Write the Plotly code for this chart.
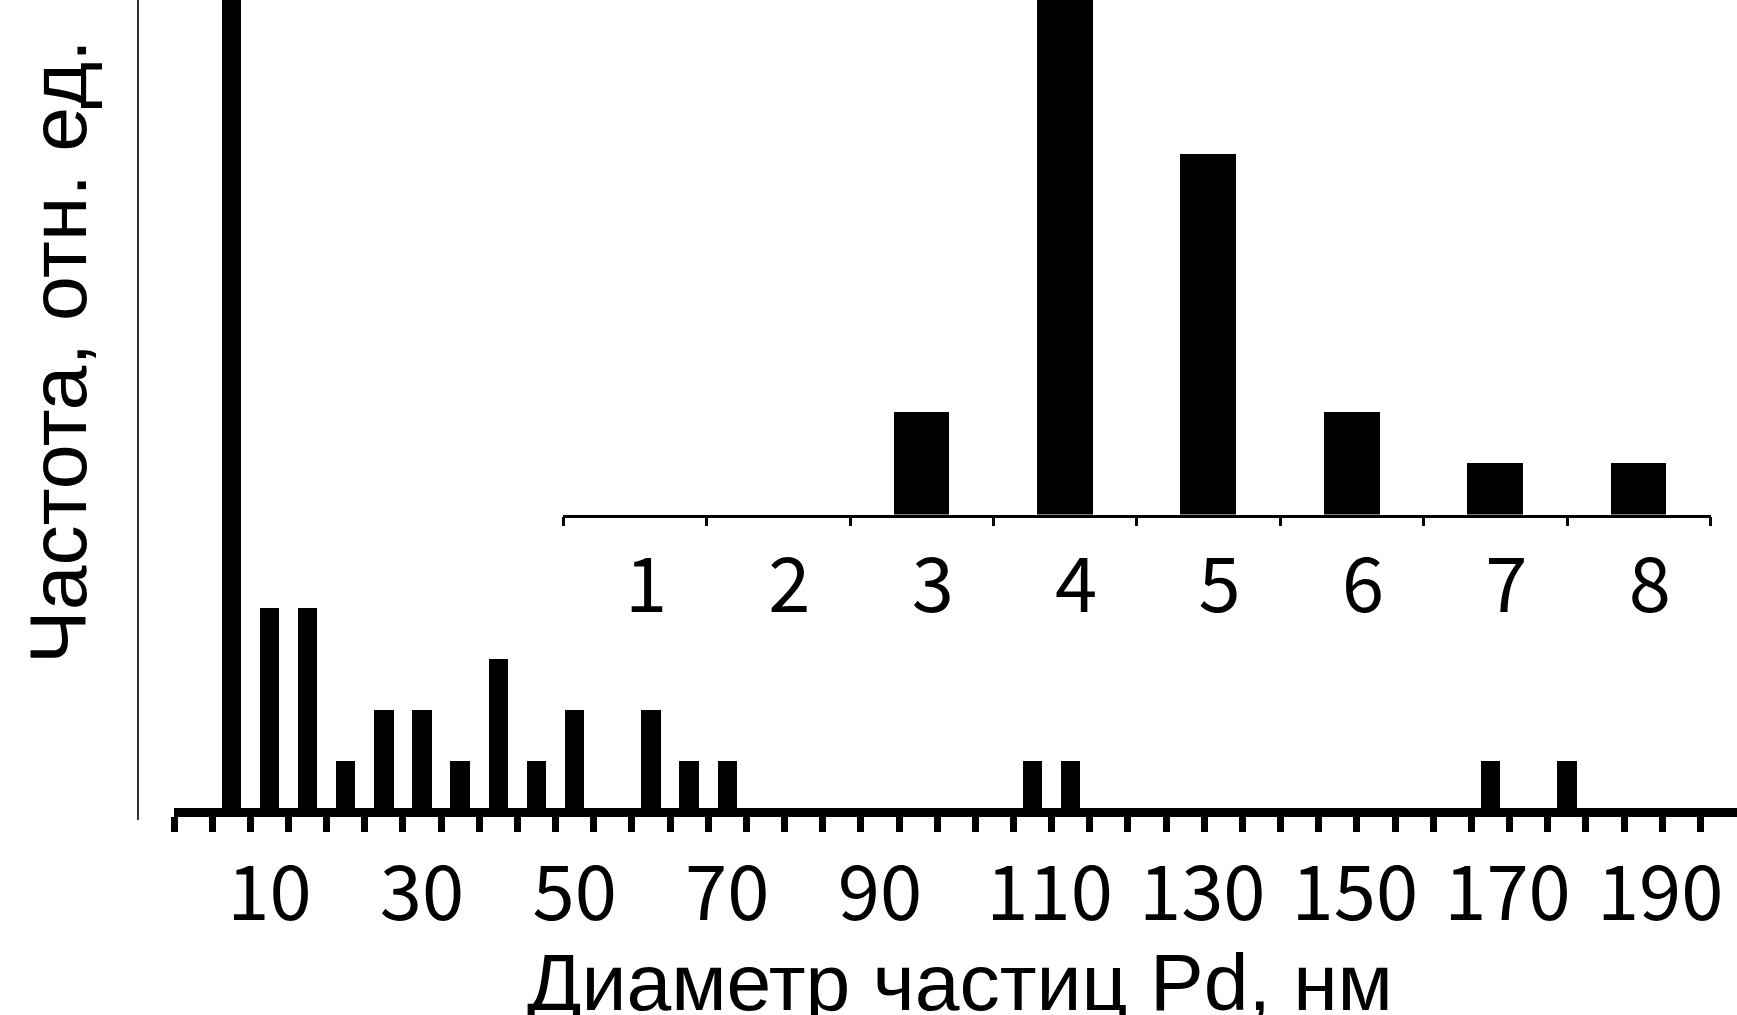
import plotly.graph_objects as go

# ---------------- data ----------------
# main histogram: particle diameter (nm) and relative frequency
diameters = [5, 10, 15, 20, 25, 30, 35, 40, 45, 50, 55, 60, 65, 70, 75, 80, 85, 90, 95,
             100, 105, 110, 115, 120, 125, 130, 135, 140, 145, 150, 155, 160, 165, 170,
             175, 180, 185, 190, 195]
counts = [27, 4, 4, 1, 2, 2, 1, 3, 1, 2, 0, 2, 1, 1, 0, 0, 0, 0, 0,
          0, 0, 1, 1, 0, 0, 0, 0, 0, 0, 0, 0, 0, 0, 1,
          0, 1, 0, 0, 0]
main_tick_labels = ["10", "30", "50", "70", "90", "110", "130", "150", "170", "190"]

# inset histogram: 1..8 nm
inset_sizes = ["1", "2", "3", "4", "5", "6", "7", "8"]
inset_counts = [0, 0, 2, 14, 7, 2, 1, 1]

x_title = "Диаметр частиц Pd, нм"
y_title = "Частота, отн. ед."

# ---------------- layout geometry ----------------
W, H = 1737, 1015
ML, MR, MT, MB = 138, 0, 0, 195
PW = W - ML - MR
PH = H - MT - MB
AXIS_Y_PX = 812          # pixel row of the main x axis line
UNIT_PX = 51.0           # pixels per unit of frequency

def px_to_paper_x(px):
    return (px - ML) / PW

def px_to_paper_y(py):
    return (H - MB - py) / PH

y_lo = -(H - MB - AXIS_Y_PX) / UNIT_PX
y_hi = y_lo + PH / UNIT_PX

TICK_FONT = dict(family="Noto Sans CJK SC", size=76, color="black")
TITLE_FONT = dict(family="Liberation Sans, Arial", size=80.5, color="black")

fig = go.Figure()
fig.add_trace(go.Bar(x=diameters, y=counts, width=2.55, marker=dict(color="black", line=dict(width=0)),
                     xaxis="x", yaxis="y", showlegend=False))
fig.add_trace(go.Bar(x=inset_sizes, y=inset_counts, width=0.39, marker=dict(color="black", line=dict(width=0)),
                     xaxis="x2", yaxis="y2", showlegend=False))

minor_vals = [-2.5 + 5 * k for k in range(42)]
label_vals = [int(t) for t in main_tick_labels]
# three-digit labels sit a little right of their category in the original
label_text = [("\u00a0\u00a0" + t) if len(t) == 3 else t for t in main_tick_labels]

fig.update_layout(
    width=W, height=H,
    margin=dict(l=ML, r=MR, t=MT, b=MB, pad=0, autoexpand=False),
    paper_bgcolor="white", plot_bgcolor="rgba(0,0,0,0)",
    xaxis=dict(
        domain=[px_to_paper_x(174), 1], range=[-2.5, 202.3],
        anchor="free", position=px_to_paper_y(AXIS_Y_PX), automargin=False,
        showline=True, linewidth=9, linecolor="black",
        tickmode="array", tickvals=label_vals, ticktext=label_text, tickangle=0,
        ticks="", tickfont=TICK_FONT, ticklabelstandoff=12,
        minor=dict(tickmode="array", tickvals=minor_vals, ticks="outside",
                   ticklen=15, tickwidth=7, tickcolor="black", showgrid=False),
        showgrid=False, zeroline=False,
    ),
    yaxis=dict(
        domain=[0, 1], range=[y_lo, y_hi], anchor="free", position=0, automargin=False,
        showline=True, linewidth=1.5, linecolor="#333333",
        showticklabels=False, ticks="", showgrid=False, zeroline=False,
    ),
    xaxis2=dict(
        domain=[px_to_paper_x(563.3), px_to_paper_x(1710.5)], anchor="y2", automargin=False,
        type="category", categoryorder="array", categoryarray=inset_sizes,
        showline=True, linewidth=2.5, linecolor="black", tickangle=0,
        ticks="outside", tickson="boundaries", ticklen=8.5, tickwidth=2.5, tickcolor="black",
        tickfont=TICK_FONT, ticklabelstandoff=4, ticklabelshift=11,
        showgrid=False, zeroline=False,
    ),
    yaxis2=dict(
        domain=[px_to_paper_y(514.5), 1], range=[0, 10], anchor="x2",
        visible=False,
    ),
    bargap=0,
    annotations=[
        dict(text=x_title, xref="paper", yref="paper",
             x=px_to_paper_x(960), y=px_to_paper_y(982), xanchor="center", yanchor="middle",
             showarrow=False, font=TITLE_FONT),
        dict(text=y_title, xref="paper", yref="paper", textangle=-90,
             x=px_to_paper_x(58), y=px_to_paper_y(352), xanchor="center", yanchor="middle",
             showarrow=False, font=TITLE_FONT),
    ],
)

fig.write_html("out.html", config={"displayModeBar": False},
               post_script="document.body.style.margin='0';document.body.style.overflow='hidden';")
